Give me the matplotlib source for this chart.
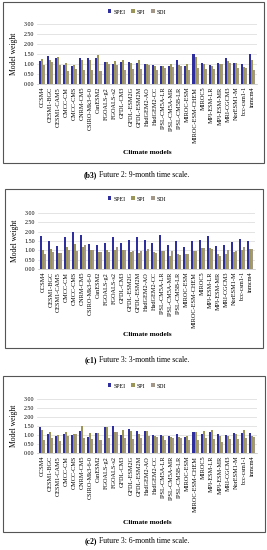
import numpy as np
import matplotlib
matplotlib.use("Agg")
import matplotlib.pyplot as plt
from matplotlib.patches import Rectangle

plt.rcParams['font.family'] = ['Liberation Serif', 'DejaVu Serif']

models = ["CCSM4", "CESM1-BGC", "CESM1-CAM5", "CMCC-CM", "CMCC-CMS", "CNRM-CM5",
          "CSIRO-Mk3-6-0", "CanESM2", "FGOALS-g2", "FGOALS-s2", "GFDL-CM3",
          "GFDL-ESM2G", "GFDL-ESM2M", "HadGEM2-AO", "HadGEM2-CC", "IPSL-CM5A-LR",
          "IPSL-CM5A-MR", "IPSL-CM5B-LR", "MIROC-ESM", "MIROC-ESM-CHEM", "MIROC5",
          "MPI-ESM-LR", "MPI-ESM-MR", "MRI-CGCM3", "NorESM1-M", "bcc-csm1-1", "inmcm4"]

# (b3) Future 2: 9-month
spei_b3 = [1.13, 1.38, 1.28, 0.97, 0.90, 1.30, 1.30, 1.28, 1.12, 1.02, 1.10, 1.10, 1.03,
           1.00, 0.97, 0.88, 0.90, 1.20, 0.88, 1.52, 1.05, 0.97, 1.05, 1.30, 1.05, 1.00, 1.48]
spi_b3 = [1.25, 1.22, 1.37, 1.05, 0.93, 1.22, 1.22, 1.47, 1.12, 1.17, 1.22, 1.04, 1.20,
          1.00, 0.90, 0.92, 1.02, 0.97, 1.00, 1.34, 1.02, 0.89, 1.00, 1.14, 1.05, 0.86, 1.20]
sdi_b3 = [0.93, 1.08, 0.93, 0.63, 0.77, 0.68, 0.68, 0.63, 1.02, 0.95, 0.68, 0.76, 0.75,
          0.95, 0.72, 0.82, 0.86, 0.90, 0.72, 0.81, 0.75, 0.75, 1.00, 1.05, 0.78, 0.78, 0.69]

# (c1) Future 3: 3-month
spei_c1 = [1.79, 1.52, 1.25, 1.72, 1.98, 1.84, 1.35, 1.31, 1.41, 1.71, 1.40, 1.57, 1.69,
           1.57, 1.41, 1.80, 1.30, 1.50, 1.20, 1.48, 1.57, 1.75, 1.25, 1.27, 1.43, 1.63, 1.51]
spi_c1 = [1.00, 1.07, 0.84, 1.20, 1.36, 1.16, 1.00, 0.93, 1.02, 1.02, 1.00, 0.91, 0.86,
          0.98, 0.92, 0.98, 0.71, 0.78, 0.83, 0.95, 1.13, 1.13, 0.78, 0.78, 0.92, 1.04, 1.08]
sdi_c1 = [0.82, 0.93, 0.84, 1.04, 0.95, 1.30, 1.00, 0.89, 0.91, 1.16, 1.00, 0.98, 0.95,
          1.05, 0.86, 0.96, 0.98, 0.76, 0.82, 0.96, 1.12, 1.09, 0.68, 1.03, 0.94, 1.19, 1.07]

# (c2) Future 3: 6-month
spei_c2 = [1.46, 1.07, 0.92, 1.07, 0.99, 1.24, 0.90, 1.10, 1.44, 1.52, 1.01, 1.33, 1.25,
           1.20, 1.00, 1.00, 0.95, 1.07, 0.90, 1.18, 1.05, 1.18, 1.08, 1.00, 1.13, 1.12, 1.10]
spi_c2 = [1.28, 1.16, 0.98, 1.18, 1.03, 1.48, 1.09, 1.13, 1.42, 1.18, 1.28, 1.20, 1.05,
          1.20, 0.95, 0.97, 0.88, 0.88, 0.95, 1.18, 1.25, 1.27, 0.93, 0.97, 1.05, 1.28, 0.97]
sdi_c2 = [0.71, 0.84, 0.69, 0.96, 1.03, 0.86, 0.80, 0.71, 0.84, 1.18, 0.84, 0.80, 0.85,
          0.95, 0.88, 0.73, 0.85, 0.83, 0.75, 0.73, 0.85, 0.78, 0.62, 0.80, 0.78, 0.82, 0.88]

series_labels = ["SPEI", "SPI", "SDI"]
colors = ["#2e2e9e", "#9c9558", "#a39887"]

W, H = 267.0, 550.0

def fx(px):
    return px / W

def fy(py):
    return 1 - py / H

fig = plt.figure(figsize=(2.67, 5.50), dpi=100)
fig.set_facecolor('#FFFFFF')

panels = [
    # data, frame (x0, y0, x1, y1), axes (x0, top, x1, bottom), legend y, xlabel y, caption y, tag, caption
    ((spei_b3, spi_b3, sdi_b3), (3, 2, 264, 163), (37, 24, 257, 84), 12, 152, 175,
     "(b3)", "Future 2: 9-month time scale."),
    ((spei_c1, spi_c1, sdi_c1), (5, 189, 263, 348), (38, 213, 255, 269), 199, 335, 360,
     "(c1)", "Future 3: 3-month time scale."),
    ((spei_c2, spi_c2, sdi_c2), (3, 376, 265, 532), (37, 399, 257, 453), 386, 522, 541,
     "(c2)", "Future 3: 6-month time scale."),
]

x = np.arange(len(models))
bw = 0.25

for data, frame, box, ly, xly, cy, tag, cap in panels:
    fx0, fy0, fx1, fy1 = frame
    fig.patches.append(Rectangle((fx(fx0), fy(fy1)), fx(fx1 - fx0), (fy1 - fy0) / H,
                                 transform=fig.transFigure, fill=False,
                                 edgecolor='#555555', linewidth=0.8))
    ax0, atop, ax1, abot = box
    ax = fig.add_axes([fx(ax0), fy(abot), fx(ax1 - ax0), (abot - atop) / H])
    handles = []
    for k, vals in enumerate(data):
        b = ax.bar(x + (k - 1) * bw, vals, width=bw, color=colors[k], label=series_labels[k])
        handles.append(b)
    ax.set_ylim(0, 3)
    ax.set_xlim(-0.6, len(models) - 0.4)
    ax.set_yticks(np.arange(0, 3.01, 0.5))
    ax.set_yticklabels(["%.2f" % v for v in np.arange(0, 3.01, 0.5)], fontsize=4.3)
    ax.set_xticks(x)
    ax.set_xticklabels(models, rotation=90, fontsize=4.5)
    ax.tick_params(length=0, pad=2)
    ax.grid(axis='y', color='#d9d9d9', linewidth=0.5)
    ax.set_axisbelow(True)
    for s in ['top', 'right', 'left']:
        ax.spines[s].set_visible(False)
    ax.spines['bottom'].set_color('#bfbfbf')
    ax.spines['bottom'].set_linewidth(0.5)
    ax.set_ylabel("Model weight", fontsize=5.5, labelpad=4)
    fig.text(fx(147), fy(xly), "Climate models", fontsize=5.3, fontweight='bold',
             ha='center', va='center')
    fig.legend(handles, series_labels, loc='center', bbox_to_anchor=(fx(137), fy(ly)),
               ncol=3, frameon=False, fontsize=4.3, handlelength=0.6, handleheight=0.6,
               handletextpad=0.3, columnspacing=1.0)
    fig.text(fx(97), fy(cy), tag, fontsize=5.5, fontweight='bold', ha='right', va='center')
    fig.text(fx(99), fy(cy), cap, fontsize=5.5, ha='left', va='center')

fig.savefig("out.png", dpi=100)
